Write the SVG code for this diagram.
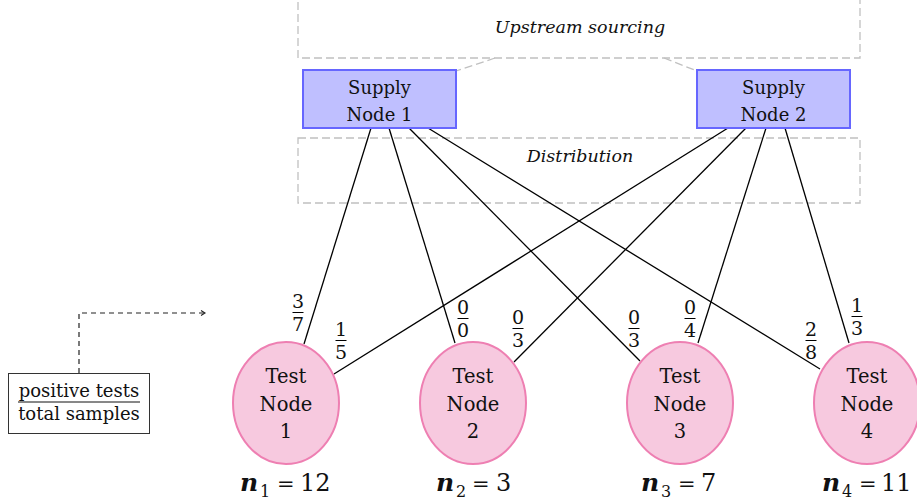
<svg xmlns="http://www.w3.org/2000/svg" width="917" height="503" viewBox="0 0 917 503" font-family="'DejaVu Serif', 'Liberation Serif', serif">
<style>
text{fill:#111;}
.region{fill:none;stroke:#c0c0c0;stroke-width:1.3;stroke-dasharray:8,4;}
.rlabel{font-style:italic;font-size:17.5px;text-anchor:middle;}
.supply rect{fill:#bfbfff;stroke:#6666ff;stroke-width:2;}
.supply text{font-size:18px;text-anchor:middle;}
.test ellipse{fill:#f7c9df;stroke:#ee7fb2;stroke-width:2;}
.test text{font-size:19.5px;text-anchor:middle;}
.edge{stroke:#000;stroke-width:1.3;fill:none;}
.fr text{font-size:19px;text-anchor:middle;}
.fr line{stroke:#000;stroke-width:1;}
.nl{font-size:24px;}
.bi{font-weight:bold;font-style:italic;font-size:25px;}
.sub{font-size:16px;}
.eq{font-size:21px;}
</style>
<defs>
<marker id="arr" markerWidth="8" markerHeight="8" refX="6" refY="4" orient="auto" markerUnits="userSpaceOnUse">
<path d="M2,1.5 L6,4 L2,6.5" fill="none" stroke="#222" stroke-width="1.1"/>
</marker>
</defs>

<g id="upstream">
<rect class="region" x="298" y="-6" width="562" height="64"/>
<text class="rlabel" x="580" y="33">Upstream sourcing</text>
</g>
<g id="distribution">
<rect class="region" x="298" y="138" width="562" height="65"/>
<text class="rlabel" x="580" y="162">Distribution</text>
</g>

<g id="region-links">
<line class="region" x1="495" y1="58" x2="456" y2="71"/>
<line class="region" x1="664" y1="58" x2="697" y2="71"/>
</g>

<g id="connectors">
<line class="edge" x1="371" y1="128" x2="304" y2="344"/>
<line class="edge" x1="389" y1="128" x2="455" y2="343"/>
<line class="edge" x1="409" y1="128" x2="640" y2="361"/>
<line class="edge" x1="428" y1="128" x2="820" y2="369"/>
<line class="edge" x1="728" y1="128" x2="334" y2="374"/>
<line class="edge" x1="746" y1="128" x2="514" y2="362"/>
<line class="edge" x1="766" y1="128" x2="698" y2="343"/>
<line class="edge" x1="785" y1="128" x2="849" y2="343"/>
<path d="M79,373 V313 H205" fill="none" stroke="#222" stroke-width="1.2" stroke-dasharray="5,4" marker-end="url(#arr)"/>
</g>

<g id="supply1" class="supply">
<rect x="303" y="70" width="153" height="58"/>
<text x="379.5" y="94">Supply</text>
<text x="379.5" y="121">Node 1</text>
</g>
<g id="supply2" class="supply">
<rect x="697" y="70" width="153" height="58"/>
<text x="773.5" y="94">Supply</text>
<text x="773.5" y="121">Node 2</text>
</g>

<g id="test1" class="test">
<ellipse cx="286" cy="403" rx="53" ry="61"/>
<text x="286" y="383">Test</text>
<text x="286" y="411">Node</text>
<text x="286" y="438">1</text>
</g>
<g id="test2" class="test">
<ellipse cx="473" cy="403" rx="53" ry="61"/>
<text x="473" y="383">Test</text>
<text x="473" y="411">Node</text>
<text x="473" y="438">2</text>
</g>
<g id="test3" class="test">
<ellipse cx="680" cy="403" rx="53" ry="61"/>
<text x="680" y="383">Test</text>
<text x="680" y="411">Node</text>
<text x="680" y="438">3</text>
</g>
<g id="test4" class="test">
<ellipse cx="867" cy="403" rx="53" ry="61"/>
<text x="867" y="383">Test</text>
<text x="867" y="411">Node</text>
<text x="867" y="438">4</text>
</g>

<g id="fractions" class="fr">
<g><text x="298" y="308">3</text><line x1="292.5" y1="312.5" x2="303.5" y2="312.5"/><text x="298" y="331">7</text></g>
<g><text x="341" y="336">1</text><line x1="335.5" y1="340.5" x2="346.5" y2="340.5"/><text x="341" y="359">5</text></g>
<g><text x="463" y="314">0</text><line x1="457.5" y1="318.5" x2="468.5" y2="318.5"/><text x="463" y="337">0</text></g>
<g><text x="518" y="324">0</text><line x1="512.5" y1="328.5" x2="523.5" y2="328.5"/><text x="518" y="347">3</text></g>
<g><text x="634" y="324">0</text><line x1="628.5" y1="328.5" x2="639.5" y2="328.5"/><text x="634" y="347">3</text></g>
<g><text x="690" y="314">0</text><line x1="684.5" y1="318.5" x2="695.5" y2="318.5"/><text x="690" y="337">4</text></g>
<g><text x="811" y="336">2</text><line x1="805.5" y1="340.5" x2="816.5" y2="340.5"/><text x="811" y="359">8</text></g>
<g><text x="857" y="312">1</text><line x1="851.5" y1="316.5" x2="862.5" y2="316.5"/><text x="857" y="335">3</text></g>
</g>

<g id="labels">
<text class="nl" y="491"><tspan x="240" class="bi">n</tspan><tspan x="260" dy="6" class="sub">1</tspan><tspan x="277" dy="-6" class="eq">=</tspan><tspan x="300">12</tspan></text>
<text class="nl" y="491"><tspan x="436" class="bi">n</tspan><tspan x="456" dy="6" class="sub">2</tspan><tspan x="472" dy="-6" class="eq">=</tspan><tspan x="496">3</tspan></text>
<text class="nl" y="491"><tspan x="641" class="bi">n</tspan><tspan x="661" dy="6" class="sub">3</tspan><tspan x="678" dy="-6" class="eq">=</tspan><tspan x="701">7</tspan></text>
<text class="nl" y="491"><tspan x="822" class="bi">n</tspan><tspan x="842" dy="6" class="sub">4</tspan><tspan x="859" dy="-6" class="eq">=</tspan><tspan x="881">11</tspan></text>
</g>

<g id="legend">
<rect x="8.5" y="373.5" width="141" height="60" fill="#fff" stroke="#333" stroke-width="1"/>
<text x="79" y="397" font-size="18" text-anchor="middle">positive tests</text>
<line x1="18" y1="402" x2="140" y2="402" stroke="#111" stroke-width="1"/>
<text x="79" y="420" font-size="18" text-anchor="middle">total samples</text>
</g>
</svg>
